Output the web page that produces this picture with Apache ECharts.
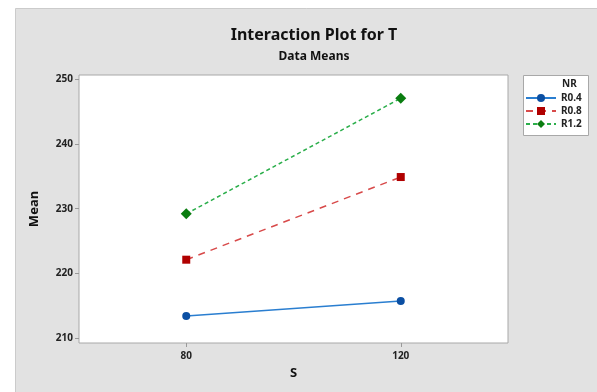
<!DOCTYPE html>
<html><head><meta charset="utf-8">
<script src="https://cdn.jsdelivr.net/npm/echarts@6/dist/echarts.min.js"></script>
<style>html,body{margin:0;padding:0;background:#fff}#c{width:597px;height:392px}</style>
</head><body><div id="c"></div>
<script>
const categories = [80, 120];
const seriesNames = ['R0.4', 'R0.8', 'R1.2'];
const r04 = [213.4, 215.7];
const r08 = [222.1, 234.9];
const r12 = [229.2, 247.1];
const xTicks = [80, 120];
const yTicks = [210, 220, 230, 240, 250];

const font = '"Noto Sans", "Open Sans", sans-serif';
const chart = echarts.init(document.getElementById('c'), null, {renderer: 'canvas'});
const pair = (vals) => categories.map((c, i) => [c, vals[i]]);
chart.setOption({
  animation: false,
  backgroundColor: '#ffffff',
  graphic: [
    {type: 'rect', z: -10, shape: {x: 15.5, y: 8.5, width: 600, height: 400}, style: {fill: '#e2e2e2', stroke: '#cbcbcb', lineWidth: 1}},
    {type: 'rect', z: 1, shape: {x: 523.5, y: 75.5, width: 65, height: 60}, style: {fill: '#ffffff', stroke: '#a8a8a8', lineWidth: 1}},
    {type: 'text', z: 5, style: {x: 562, y: 79, text: 'NR', font: 'bold 10px ' + font, fill: '#222'}}
  ],
  title: [
    {text: 'Interaction Plot for T', left: 309, top: 22, textAlign: 'center',
     textStyle: {fontFamily: font, fontSize: 16, fontWeight: 'bold', color: '#111'}},
    {text: 'Data Means', left: 309, top: 46, textAlign: 'center',
     textStyle: {fontFamily: font, fontSize: 12, fontWeight: 'bold', color: '#111'}}
  ],
  legend: {
    orient: 'vertical', left: 525, top: 93, itemWidth: 30, itemHeight: 10, itemGap: 3,
    padding: 0, z: 5,
    data: seriesNames,
    textStyle: {fontFamily: font, fontSize: 10, fontWeight: 'bold', color: '#222', padding: [0, 0, 0, 0]}
  },
  grid: {left: 79, right: 89, top: 75, bottom: 49, show: true, backgroundColor: '#ffffff', borderColor: '#a8a8a8', borderWidth: 1},
  xAxis: {
    type: 'value', min: 60, max: 140,
    name: 'S', nameLocation: 'middle', nameGap: 24,
    nameTextStyle: {fontFamily: font, fontSize: 13, fontWeight: 'bold', color: '#111'},
    axisLine: {show: false},
    splitLine: {show: false},
    axisTick: {show: true, customValues: xTicks, length: 4, lineStyle: {color: '#999'}},
    axisLabel: {customValues: xTicks, fontFamily: font, fontSize: 10, fontWeight: 'bold', color: '#222', margin: 8}
  },
  yAxis: {
    type: 'value', min: 209.2, max: 250.7,
    name: 'Mean', nameLocation: 'middle', nameGap: 38,
    nameTextStyle: {fontFamily: font, fontSize: 13, fontWeight: 'bold', color: '#111'},
    axisLine: {show: false},
    splitLine: {show: false},
    axisTick: {show: true, customValues: yTicks, length: 4, lineStyle: {color: '#999'}},
    axisLabel: {customValues: yTicks, fontFamily: font, fontSize: 10, fontWeight: 'bold', color: '#222', margin: 6}
  },
  series: [
    {name: seriesNames[0], type: 'line', data: pair(r04), symbol: 'circle', symbolSize: 8,
     lineStyle: {color: '#2a7ed0', width: 1.5, type: 'solid'}, itemStyle: {color: '#0b4fa3'}},
    {name: seriesNames[1], type: 'line', data: pair(r08), symbol: 'rect', symbolSize: 8,
     lineStyle: {color: '#d84a4a', width: 1.5, type: [7, 6]}, itemStyle: {color: '#b00000'}},
    {name: seriesNames[2], type: 'line', data: pair(r12), symbol: 'diamond', symbolSize: 11,
     lineStyle: {color: '#2aae4a', width: 1.5, type: [4, 3]}, itemStyle: {color: '#0a7d10'}}
  ]
});
</script></body></html>
